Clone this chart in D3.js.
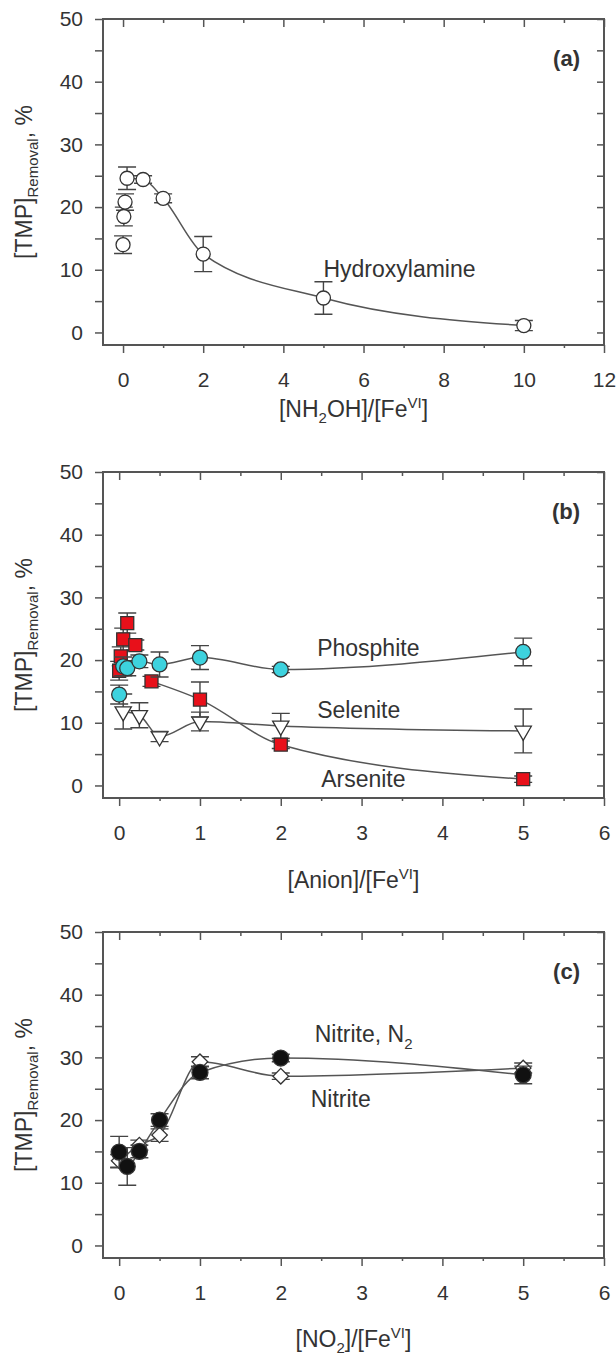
<!DOCTYPE html>
<html>
<head>
<meta charset="utf-8">
<script src="https://cdn.jsdelivr.net/npm/d3@7"></script>
<style>
  body { margin: 0; background: #fff; }
  text { font-family: "Liberation Sans", Arial, sans-serif; fill: #333; }
</style>
</head>
<body>
<div id="chart"></div>
<script>
// ---- data ----
// (a) hydroxylamine
const nhX = [0, 0.02, 0.05, 0.1, 0.5, 1, 2, 5, 10];
const nhY = [14.0, 18.5, 20.8, 24.6, 24.4, 21.4, 12.5, 5.5, 1.1];
const nhErr = [1.4, 1.5, 1.3, 1.8, 0.6, 0.7, 2.8, 2.6, 0.8];

// (b) anions
const selX = [0.05, 0.25, 0.5, 1, 2, 5];
const selY = [11.8, 11.2, 7.8, 10.2, 9.5, 8.7];
const selErr = [2.8, 2.0, 0.8, 1.5, 2.0, 3.5];

const arsX = [0, 0.02, 0.05, 0.1, 0.2, 0.4, 1, 2, 5];
const arsY = [18.3, 20.6, 23.3, 25.9, 22.4, 16.6, 13.7, 6.5, 1.0];
const arsErr = [1.5, 1.5, 1.8, 1.6, 0.8, 0.8, 2.8, 0.6, 0.5];

const phoX = [0, 0.05, 0.1, 0.25, 0.5, 1, 2, 5];
const phoY = [14.5, 19.0, 18.7, 19.8, 19.3, 20.4, 18.5, 21.3];
const phoErr = [1.5, 1.5, 1.2, 1.0, 2.0, 1.9, 0.5, 2.2];

// (c) nitrite
const nitX = [0, 0.25, 0.5, 1, 2, 5];
const nitY = [13.5, 16.0, 17.6, 29.3, 27.0, 28.3];
const nitErr = [1.0, 0.8, 1.0, 0.8, 0.5, 0.8];

const nitN2X = [0, 0.1, 0.25, 0.5, 1, 2, 5];
const nitN2Y = [14.9, 12.6, 15.0, 20.0, 27.6, 29.9, 27.2];
const nitN2Err = [2.5, 3.0, 1.0, 1.0, 1.0, 0.6, 1.4];

const yTicks = [0, 5, 10, 15, 20, 25, 30, 35, 40, 45, 50];
const xMajorA = [0, 2, 4, 6, 8, 10, 12];
const xMinorA = [1, 3, 5, 7, 9, 11];
const xMajorB = [0, 1, 2, 3, 4, 5, 6];
const xMinorB = [0.5, 1.5, 2.5, 3.5, 4.5, 5.5];

// ---- layout ----
const W = 616, H = 1355;
const left = 103, right = 604;
const yDomain = [-2, 50];

const svg = d3.select("#chart").append("svg")
    .attr("width", W)
    .attr("height", H);

const toPts = (xs, ys, es) => xs.map((x, i) => ({ x: x, y: ys[i], e: es[i] }));

const styleAxis = sel => {
    sel.select(".domain").remove();
    sel.selectAll("line").attr("stroke", "#555").attr("stroke-width", 1.5);
    sel.selectAll("text").style("font-size", "21px").attr("fill", "#333");
};

function drawPanel(p) {
    const x = d3.scaleLinear().domain(p.xDomain).range([left, right]);
    const y = d3.scaleLinear().domain(yDomain).range([p.bottom, p.top]);
    const g = svg.append("g");

    // ticks: bottom/left outward, top/right inward
    g.append("g").attr("transform", `translate(0,${p.bottom})`)
        .call(d3.axisBottom(x).tickValues(p.xMajor).tickSize(8).tickPadding(19).tickFormat(d3.format("d")))
        .call(styleAxis);
    g.append("g").attr("transform", `translate(0,${p.bottom})`)
        .call(d3.axisBottom(x).tickValues(p.xMinor).tickSize(3).tickFormat(""))
        .call(styleAxis);
    g.append("g").attr("transform", `translate(0,${p.top})`)
        .call(d3.axisBottom(x).tickValues(p.xMajor).tickSize(8).tickFormat(""))
        .call(styleAxis);
    g.append("g").attr("transform", `translate(0,${p.top})`)
        .call(d3.axisBottom(x).tickValues(p.xMinor).tickSize(4).tickFormat(""))
        .call(styleAxis);
    g.append("g").attr("transform", `translate(${left},0)`)
        .call(d3.axisLeft(y).tickValues(yTicks).tickSize(8).tickPadding(12)
            .tickFormat(d => d % 10 === 0 ? d : ""))
        .call(styleAxis);
    g.append("g").attr("transform", `translate(${right},0)`)
        .call(d3.axisLeft(y).tickValues(yTicks).tickSize(7).tickFormat(""))
        .call(styleAxis);

    // frame
    g.append("rect")
        .attr("x", left).attr("y", p.top)
        .attr("width", right - left).attr("height", p.bottom - p.top)
        .attr("fill", "none").attr("stroke", "#555").attr("stroke-width", 2);

    const line = d3.line().x(d => x(d.x)).y(d => y(d.y)).curve(d3.curveMonotoneX);

    p.series.forEach(s => {
        // error bars
        g.append("g").selectAll("path").data(s.pts).join("path")
            .attr("d", d => {
                const cx = x(d.x), t = y(d.y + d.e), b = y(d.y - d.e);
                return `M${cx},${t}V${b}M${cx - 9},${t}h18M${cx - 9},${b}h18`;
            })
            .attr("fill", "none")
            .attr("stroke", "#444")
            .attr("stroke-width", 1.4);

        // connecting curve
        g.append("path")
            .attr("d", line(s.pts.filter(d => d.x >= s.lineFrom)))
            .attr("fill", "none")
            .attr("stroke", "#555")
            .attr("stroke-width", 1.5);

        // markers
        g.append("g").selectAll("path").data(s.pts).join("path")
            .attr("d", d3.symbol().type(s.symbol).size(s.size))
            .attr("transform", d => `translate(${x(d.x)},${y(d.y)}) rotate(${s.rotate || 0})`)
            .attr("fill", s.fill)
            .attr("stroke", "#333")
            .attr("stroke-width", 1.3);
    });

    // series labels
    p.labels.forEach(l => {
        const t = g.append("text")
            .attr("x", x(l.x)).attr("y", y(l.y))
            .attr("dy", "0.35em")
            .style("font-size", "23px");
        t.append("tspan").text(l.text);
        if (l.sub) {
            t.append("tspan").text(l.sub).style("font-size", "15px").attr("dy", 7);
        }
    });

    // panel letter
    g.append("text")
        .attr("x", right - 24).attr("y", y(43.8))
        .attr("dy", "0.35em")
        .attr("text-anchor", "end")
        .style("font-size", "22px")
        .style("font-weight", "bold")
        .text(p.letter);

    // y title
    const yt = svg.append("text")
        .attr("transform", `translate(32,${(p.top + p.bottom) / 2}) rotate(-90)`)
        .attr("text-anchor", "middle")
        .style("font-size", "23px");
    yt.append("tspan").text("[TMP]");
    yt.append("tspan").text("Removal").style("font-size", "15px").attr("dy", 6);
    yt.append("tspan").text(", %").attr("dy", -6);

    // x title
    const xt = svg.append("text")
        .attr("x", (left + right) / 2).attr("y", p.titleY)
        .attr("text-anchor", "middle")
        .style("font-size", "23px");
    p.title.forEach(part => {
        const ts = xt.append("tspan").text(part.t);
        if (part.dy) ts.attr("dy", part.dy);
        if (part.small) ts.style("font-size", "15px");
    });
}

drawPanel({
    top: 19, bottom: 345, titleY: 417,
    xDomain: [-0.5, 12], xMajor: xMajorA, xMinor: xMinorA,
    letter: "(a)",
    series: [
        { pts: toPts(nhX, nhY, nhErr), symbol: d3.symbolCircle, size: 154, fill: "#fff", lineFrom: 0.1 }
    ],
    labels: [{ text: "Hydroxylamine", x: 5.0, y: 10.2 }],
    title: [
        { t: "[NH" }, { t: "2", dy: 6, small: true }, { t: "OH]/[Fe", dy: -6 },
        { t: "VI", dy: -9, small: true }, { t: "]", dy: 9 }
    ]
});

drawPanel({
    top: 472, bottom: 798, titleY: 888,
    xDomain: [-0.2, 6], xMajor: xMajorB, xMinor: xMinorB,
    letter: "(b)",
    series: [
        { pts: toPts(selX, selY, selErr), symbol: d3.symbolTriangle, size: 115, rotate: 180, fill: "#fff", lineFrom: 0 },
        { pts: toPts(arsX, arsY, arsErr), symbol: d3.symbolSquare, size: 169, fill: "#e8101a", lineFrom: 0.4 },
        { pts: toPts(phoX, phoY, phoErr), symbol: d3.symbolCircle, size: 177, fill: "#3dd2de", lineFrom: 0.1 }
    ],
    labels: [
        { text: "Phosphite", x: 2.45, y: 22 },
        { text: "Selenite", x: 2.45, y: 12.1 },
        { text: "Arsenite", x: 2.5, y: 1.0 }
    ],
    title: [
        { t: "[Anion]/[Fe" }, { t: "VI", dy: -9, small: true }, { t: "]", dy: 9 }
    ]
});

drawPanel({
    top: 932, bottom: 1258, titleY: 1347,
    xDomain: [-0.2, 6], xMajor: xMajorB, xMinor: xMinorB,
    letter: "(c)",
    series: [
        { pts: toPts(nitX, nitY, nitErr), symbol: d3.symbolSquare, size: 121, rotate: 45, fill: "#fff", lineFrom: 0 },
        { pts: toPts(nitN2X, nitN2Y, nitN2Err), symbol: d3.symbolCircle, size: 200, fill: "#111", lineFrom: 0 }
    ],
    labels: [
        { text: "Nitrite, N", sub: "2", x: 2.42, y: 33.7 },
        { text: "Nitrite", x: 2.37, y: 23.4 }
    ],
    title: [
        { t: "[NO" }, { t: "2", dy: 6, small: true }, { t: "]/[Fe", dy: -6 },
        { t: "VI", dy: -9, small: true }, { t: "]", dy: 9 }
    ]
});
</script>
</body>
</html>
